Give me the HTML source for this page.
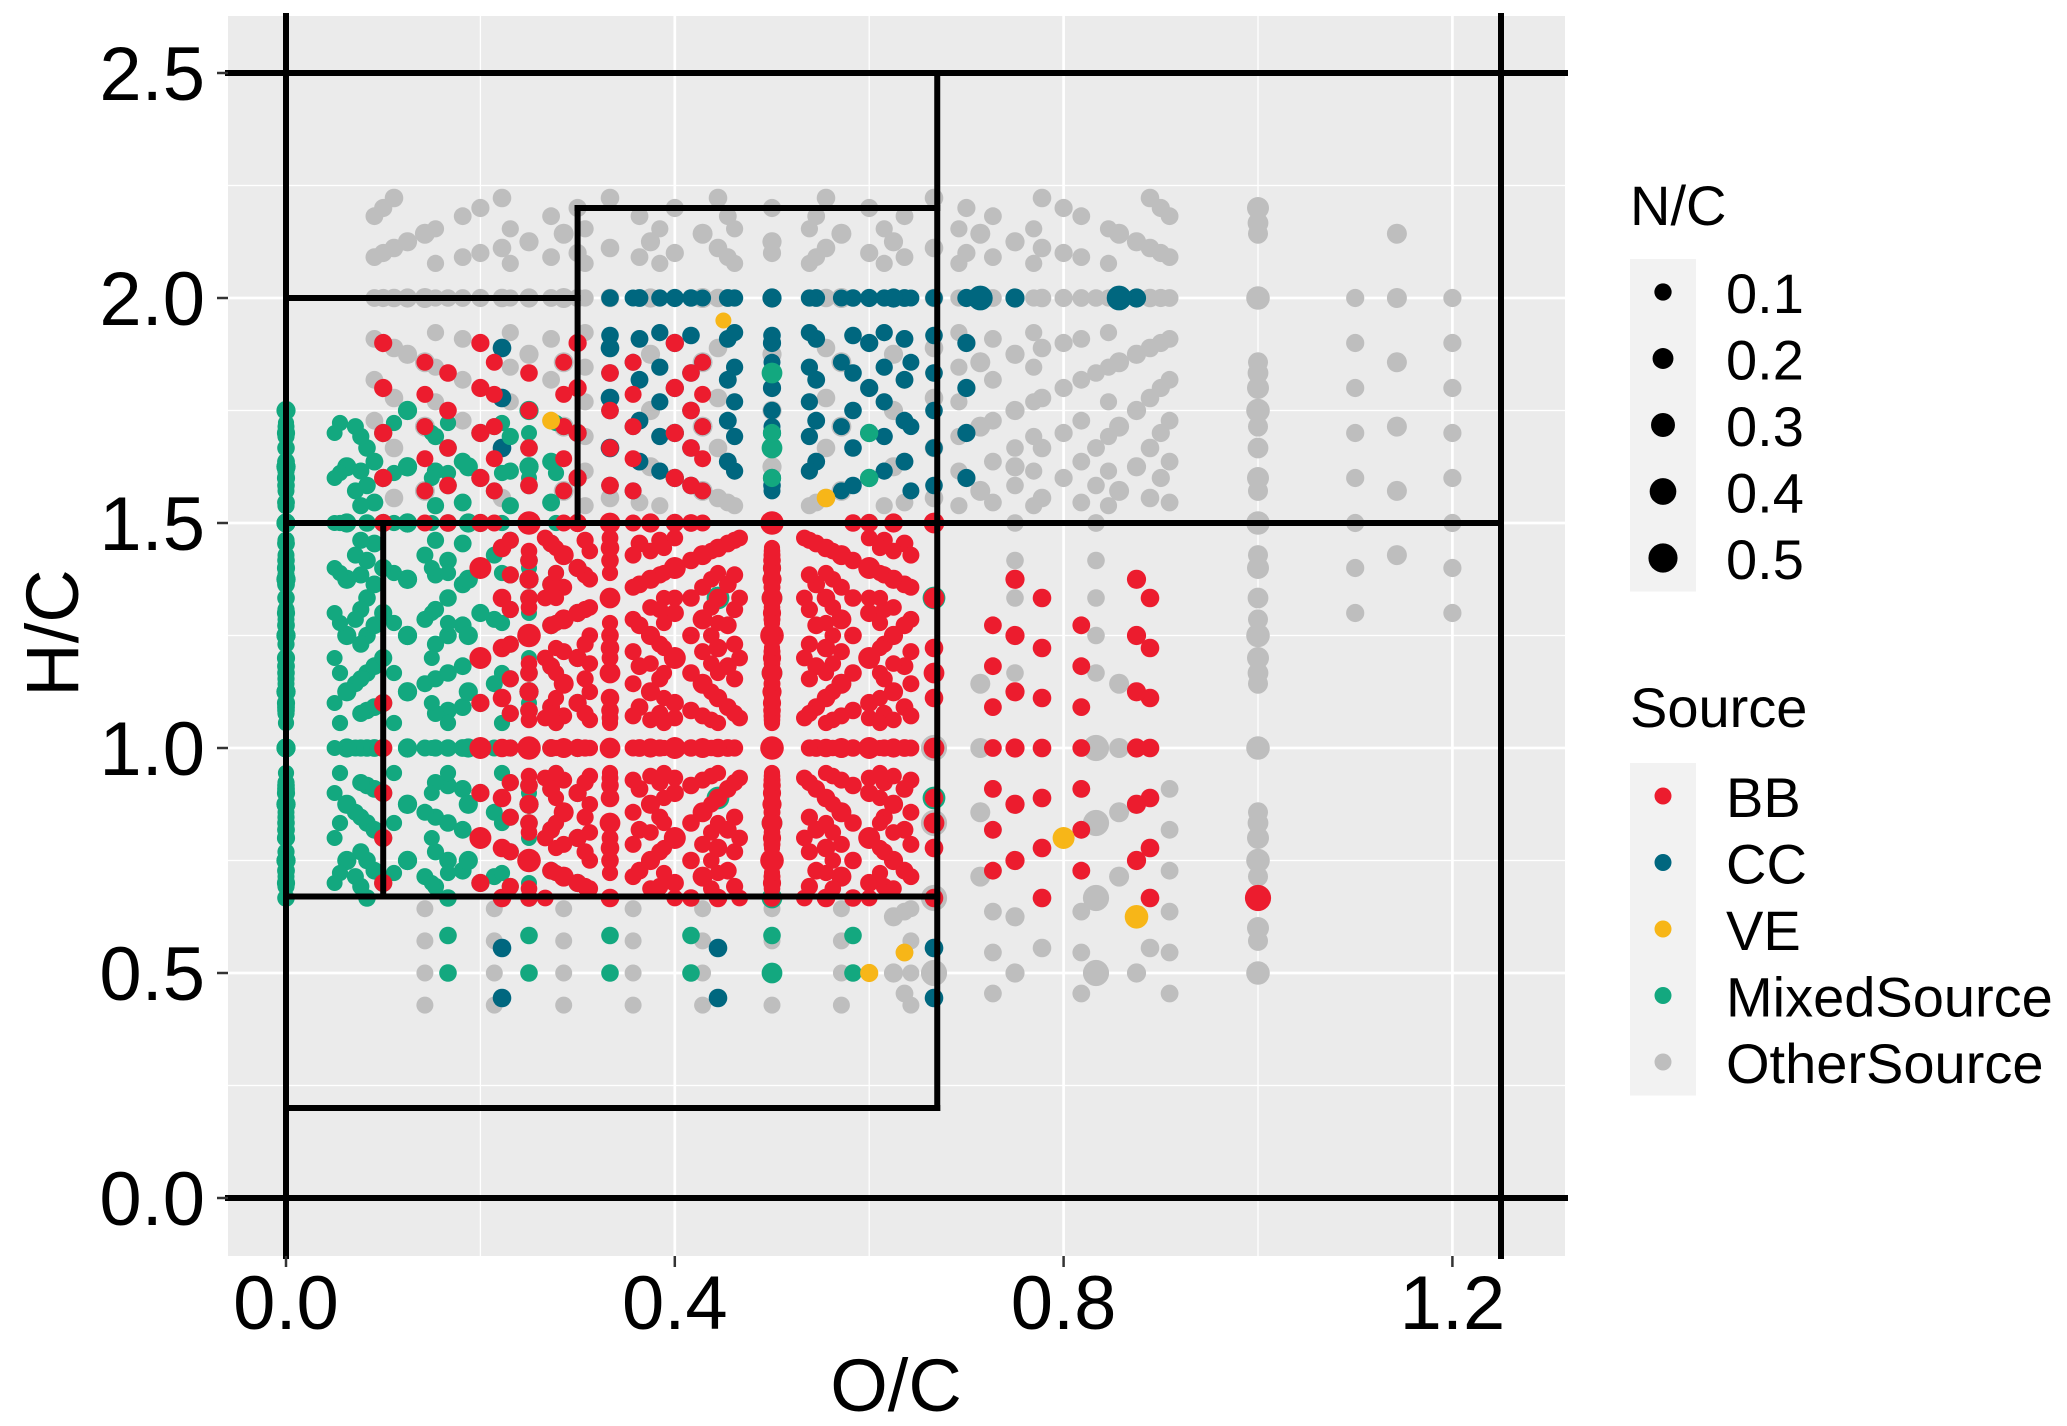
<!DOCTYPE html>
<html><head><meta charset="utf-8"><style>
html,body{margin:0;padding:0;background:#fff;}
svg{display:block;font-family:"Liberation Sans",Arial,sans-serif;}
</style></head><body>
<svg id="chart" width="2067" height="1426" viewBox="0 0 2067 1426" xmlns="http://www.w3.org/2000/svg">
<rect x="228" y="16" width="1337" height="1240" fill="#EBEBEB"/>
<g id="grid"></g>
<g id="points"></g>
<g id="regions"></g>
<g id="axes"></g>
<text x="896" y="1411" font-size="74" text-anchor="middle">O/C</text>
<text transform="translate(78,633) rotate(-90)" font-size="74" text-anchor="middle">H/C</text>
<g id="legend"></g>
</svg>
<script>
// atom-count range notation for formula groups
function seq(a,b,s){const r=[];for(let i=a;i<=b;i+=(s||1))r.push(i);return r;}
// ---- data: rows of [C, H-list, O-list, N] (molecular formula groups) ----
const otherRows = [
 [10,seq(16,22),seq(1,9),1],
 [8,seq(13,17),seq(1,7),1],
 [11,seq(17,24),seq(1,10),1],
 [9,seq(14,20),seq(1,8),1],
 [13,seq(20,28),seq(2,11),1],
 [7,seq(11,15),seq(1,6),1],
 [12,[18,20,22,24],[2,4,6,8,10],1],
 [6,[3,4,5,6],[4,5],2],
 [4,seq(2,8),[4],1],
 [5,seq(3,11),[5],1],
 [6,seq(3,13),[6],1],
 [7,seq(4,15),[7],1],
 [9,seq(5,9),[6,7,8],1],
 [11,seq(5,10),seq(7,10),1],
 [8,seq(4,7),seq(5,7),1],
 [14,seq(6,9),seq(2,9),1],
 [7,seq(10,15),[8],1],
 [10,seq(13,20),[11,12],1],
 [12,seq(14,20),[9,10],1],
 [14,[10,12,14,16],[8,10,12],2],
 [20,[26,30,34,38,42],[2,4,6],1]
];
const ccRows = [
 [10,seq(16,20),[4,5,6,7],1],
 [12,seq(19,24),[4,5,6,7,8],1],
 [11,seq(18,22),[4,5,6,7],1],
 [13,seq(21,26),[5,6,7,8],1],
 [14,[22,24,26,28],[5,6,7,8,9],1],
 [8,[16],[4,5,6,7],1],
 [7,[14],[5,6],2],
 [9,[15,16,17],[2,3],1],
 [9,[4,5],[2,4,6],1]
];
const mixedRows = [
 [10,seq(7,17),[0,1,2,3],1],
 [12,seq(8,20),[0,1,2,3],1],
 [8,seq(6,14),[0,1,2],1],
 [11,seq(8,18),[0,1,2,3],1],
 [13,seq(9,22),[0,1,2,3],1],
 [14,seq(10,24,2),[0,1,2,3,4],1],
 [16,seq(12,26,2),[0,1,2,3,4],2],
 [18,seq(13,31,2),[0,1,2,3,4,5],1],
 [20,seq(14,34,2),[0,1,2,3,4,5],1],
 [6,seq(3,11),[3],1],
 [10,seq(14,17),[4,5,6],1],
 [12,[6,7],seq(2,7),1],
 [9,[8,12],[4,6],2]
];
const bbRows = [
 [6,seq(5,9),[2,3,4],1],
 [7,seq(5,10),[2,3,4],1],
 [8,seq(6,12),[2,3,4,5],1],
 [9,seq(6,13),[2,3,4,5],1],
 [10,seq(7,15),[3,4,5,6],1],
 [11,seq(8,16),seq(3,7),1],
 [12,seq(8,18),seq(3,7),1],
 [13,seq(9,19),seq(3,8),1],
 [14,seq(10,20),seq(4,9),1],
 [15,seq(10,22,2),seq(4,9),1],
 [16,seq(11,23),seq(4,10),1],
 [18,seq(13,26),seq(5,11),1],
 [10,seq(7,11),[1,2],1],
 [10,seq(15,19),seq(1,4),1],
 [12,seq(18,22),seq(2,5),1],
 [14,seq(21,26),seq(2,6),1],
 [9,seq(6,12),[6,7,8],1],
 [11,seq(8,14),[8,9],1],
 [5,[4,5,6,7],[1,2,3],1],
 [4,[3,4,5,6],[1,2],1],
 [8,seq(6,11),[6,7],1],
 [3,[2],[3],1]
];
const veRows = [
 [5,[4],[4],1],[11,[6],[7],1],[10,[5],[6],1],[8,[5],[7],2],[20,[39],[9],1],[9,[14],[5],1],[11,[19],[3],1]
];
const seriesNames = ["OtherSource","CC","MixedSource","BB","VE"];
const seriesRows = [otherRows, ccRows, mixedRows, bbRows, veRows];
const seriesColors = ["#BEBEBE","#00677F","#13A87F","#EC1C2E","#F7B618"];
const xTicks = [0.0,0.4,0.8,1.2];
const xTickLabels = ["0.0","0.4","0.8","1.2"];
const yTicks = [0.0,0.5,1.0,1.5,2.0,2.5];
const yTickLabels = ["0.0","0.5","1.0","1.5","2.0","2.5"];
const xMinor = [0.2,0.6,1.0];
const yMinor = [0.25,0.75,1.25,1.75,2.25];
const sizeBreaks = [0.1,0.2,0.3,0.4,0.5];
// region lines: [x1,y1,x2,y2] in data units (null = panel edge)
const regionSegs = [
 [0,null,0,null],[1.25,null,1.25,null],
 [null,2.5,null,2.5],[null,0,null,0],
 [0,0.2,0.67,0.2],[0.67,0.2,0.67,2.5],
 [0,2.0,0.3,2.0],[0.3,2.2,0.3,1.5],[0.3,2.2,0.67,2.2],
 [0,1.5,1.25,1.5],[0.1,1.5,0.1,0.67],[0,0.67,0.67,0.67]
];

const NS="http://www.w3.org/2000/svg";
const X = v => 286 + 972*v;
const Y = v => 1198 - 450*v;
const R = nc => Math.sqrt(45 + 380*Math.max(nc,0.05));
const PL=228, PR=1565, PT=16, PB=1256;
function mk(tag, attrs, parent){const e=document.createElementNS(NS,tag);for(const k in attrs)e.setAttribute(k,attrs[k]);parent.appendChild(e);return e;}

const grid=document.getElementById('grid');
xMinor.forEach(v=>{const l=mk('line',{x1:X(v),x2:X(v),y1:PT,y2:PB,stroke:'#fff','stroke-width':1.3},grid);

});
yMinor.forEach(v=>{const l=mk('line',{x1:PL,x2:PR,y1:Y(v),y2:Y(v),stroke:'#fff','stroke-width':1.3},grid);

});
xTicks.forEach(v=>{const l=mk('line',{x1:X(v),x2:X(v),y1:PT,y2:PB,stroke:'#fff','stroke-width':2.7},grid);

});
yTicks.forEach(v=>{const l=mk('line',{x1:PL,x2:PR,y1:Y(v),y2:Y(v),stroke:'#fff','stroke-width':2.7},grid);

});

const pts=document.getElementById('points');
seriesRows.forEach((rows,si)=>{
 const g=mk('g',{fill:seriesColors[si]},pts);
 
 
 rows.forEach(row=>{
  const c=row[0];
  row[1].forEach(h=>{row[2].forEach(o=>{
   const x=o/c, y=h/c;
   if(x<-0.05||x>1.28||y<-0.12||y>2.62) return;
   const ci=mk('circle',{cx:X(x).toFixed(1),cy:Y(y).toFixed(1),r:R(row[3]/c).toFixed(1)},g);
   
   
  });});
 });
});

const reg=document.getElementById('regions');
regionSegs.forEach(s=>{
 const x1=s[0]===null?PL:X(s[0]), x2=s[2]===null?PR:X(s[2]);
 const y1=s[1]===null?PT:Y(s[1]), y2=s[3]===null?PB:Y(s[3]);
 const l=mk('line',{x1:x1,y1:y1,x2:x2,y2:y2,stroke:'#000','stroke-width':6,'stroke-linecap':'square'},reg);
 
 
});

const ax=document.getElementById('axes');
xTicks.forEach((v,i)=>{
 const t=mk('line',{x1:X(v),x2:X(v),y1:PB,y2:PB+11,stroke:'#333','stroke-width':2.5},ax);
 
 
 const tx=mk('text',{x:X(v),y:1329,'font-size':76,'text-anchor':'middle'},ax);
 tx.textContent=xTickLabels[i];
 
 
});
yTicks.forEach((v,i)=>{
 const t=mk('line',{x1:PL-11,x2:PL,y1:Y(v),y2:Y(v),stroke:'#333','stroke-width':2.5},ax);
 
 
 const tx=mk('text',{x:205,y:Y(v)+27,'font-size':76,'text-anchor':'end'},ax);
 tx.textContent=yTickLabels[i];
 
 
});

const lg=document.getElementById('legend');
let t=mk('text',{x:1630,y:225,'font-size':56},lg);
t.textContent='N/C';


sizeBreaks.forEach((b,i)=>{
 const top=259+66.5*i;
 const k=mk('rect',{x:1630,y:top,width:66,height:66.5,fill:'#F2F2F2'},lg);
 
 
 const c=mk('circle',{cx:1663,cy:top+33,r:R(b)*0.95,fill:'#000'},lg);
 
 
 const tx=mk('text',{x:1726,y:top+54,'font-size':56},lg);
 tx.textContent=b.toFixed(1);
 
 
});
t=mk('text',{x:1630,y:727,'font-size':56},lg);
t.textContent='Source';


const legendOrder=["BB","CC","VE","MixedSource","OtherSource"];
legendOrder.forEach((n,i)=>{
 const top=763+66.5*i;
 const k=mk('rect',{x:1630,y:top,width:66,height:66.5,fill:'#F2F2F2'},lg);
 
 
 const c=mk('circle',{cx:1663,cy:top+33,r:8.5,fill:seriesColors[seriesNames.indexOf(n)]},lg);
 
 
 const tx=mk('text',{x:1726,y:top+54,'font-size':56},lg);
 tx.textContent=n;
 
 
});
</script>
</body></html>
